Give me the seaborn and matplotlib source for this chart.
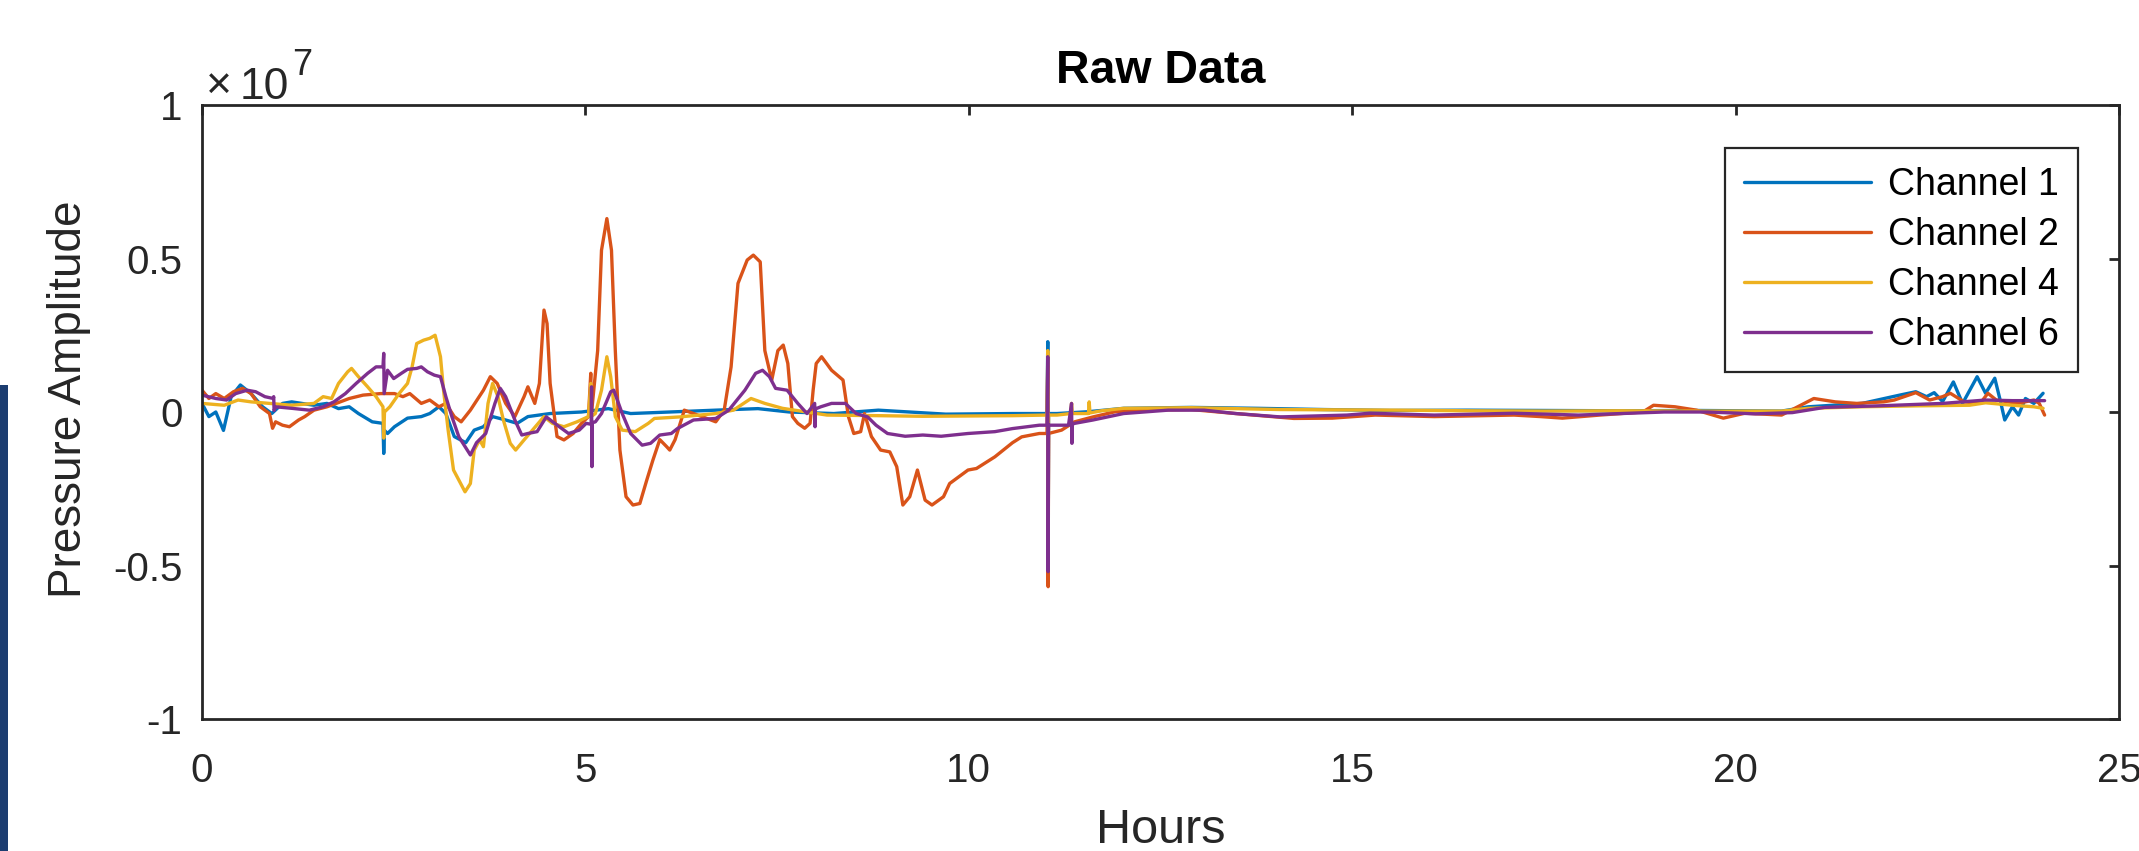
import numpy as np
import pandas as pd
import matplotlib
matplotlib.use("Agg")
import matplotlib.pyplot as plt
from matplotlib.patches import Rectangle
from matplotlib.ticker import FixedLocator, FuncFormatter
import seaborn as sns

# ---------------- data (values in units of 1e7) ----------------
channels = ["Channel 1", "Channel 2", "Channel 4", "Channel 6"]
colors = ["#0072BD", "#D95319", "#EDB120", "#7E2F8E"]

ch1_t = [0.0, 0.09, 0.18, 0.28, 0.38, 0.50, 0.64, 0.79, 0.91, 1.05, 1.17, 1.46, 1.63, 1.78, 1.92,
         2.04, 2.22, 2.36, 2.37, 2.38, 2.42, 2.51, 2.68, 2.86, 2.97, 3.09, 3.18, 3.29, 3.44, 3.55,
         3.67, 3.79, 3.96, 4.11, 4.25, 4.54, 4.95, 5.3, 5.59, 6.1, 6.7, 7.25, 7.66, 8.24, 8.82,
         9.7, 10.57, 11.02, 11.03, 11.035, 11.04, 11.15, 11.56, 12.02, 12.9, 13.77, 14.64, 15.5,
         16.5, 17.5, 18.5, 19.5, 20.6, 20.95, 21.65, 22.14, 22.35, 22.49, 22.59, 22.7, 22.84,
         22.96, 23.15, 23.26, 23.38, 23.45, 23.51, 23.61, 23.69, 23.78, 23.89, 24.01]
ch1_v = [0.028, -0.015, 0.0, -0.06, 0.05, 0.088, 0.06, 0.017, -0.005, 0.028, 0.033, 0.022, 0.028, 0.011, 0.017,
         -0.005, -0.032, -0.037, -0.135, -0.06, -0.07, -0.048, -0.02, -0.015, -0.005, 0.017, -0.005, -0.08, -0.1, -0.059,
         -0.048, -0.015, -0.026, -0.037, -0.015, -0.005, 0.0, 0.011, -0.005, 0.0, 0.006, 0.011, 0.0, -0.005, 0.006,
         -0.007, -0.005, -0.005, 0.229, -0.5, -0.005, -0.005, 0.001, 0.012, 0.015, 0.012, 0.008, 0.005,
         0.006, 0.005, 0.004, 0.005, 0.003, 0.017, 0.028, 0.055, 0.066, 0.05, 0.063, 0.034, 0.098,
         0.028, 0.115, 0.061, 0.11, 0.039, -0.026, 0.017, -0.01, 0.044, 0.028, 0.061]

ch2_t = [0.0, 0.09, 0.18, 0.29, 0.41, 0.53, 0.64, 0.76, 0.88, 0.92, 0.96, 1.05, 1.14, 1.26, 1.34, 1.46,
         1.63, 1.75, 1.92, 2.1, 2.33, 2.51, 2.62, 2.71, 2.86, 2.97, 3.09, 3.18, 3.29, 3.38, 3.5, 3.67,
         3.76, 3.85, 3.96, 4.08, 4.2, 4.25, 4.34, 4.4, 4.46, 4.5, 4.54, 4.63, 4.72, 4.84, 4.95, 5.04,
         5.07, 5.075, 5.16, 5.21, 5.28, 5.34, 5.39, 5.45, 5.53, 5.62, 5.71, 5.8, 5.88, 5.97, 6.06, 6.1,
         6.17, 6.29, 6.41, 6.52, 6.7, 6.81, 6.9, 6.99, 7.11, 7.19, 7.28, 7.34, 7.43, 7.51, 7.58, 7.64,
         7.7, 7.77, 7.86, 7.93, 7.97, 8.01, 8.08, 8.21, 8.36, 8.43, 8.5, 8.59, 8.64, 8.73, 8.85, 8.97,
         9.06, 9.14, 9.23, 9.33, 9.43, 9.52, 9.67, 9.75, 9.99, 10.1, 10.34, 10.57, 10.69, 10.92, 11.02,
         11.03, 11.035, 11.04, 11.21, 11.38, 11.62, 11.91, 12.31, 12.9, 13.48, 14.24, 14.74, 15.3,
         16.07, 17.11, 17.46, 17.74, 18.23, 18.79, 18.93, 19.21, 19.49, 19.84, 20.12, 20.6, 20.85,
         21.02, 21.3, 21.58, 21.93, 22.07, 22.35, 22.53, 22.7, 22.8, 22.98, 23.19, 23.29, 23.4, 23.68,
         23.89, 23.96, 24.03]
ch2_v = [0.071, 0.044, 0.06, 0.044, 0.066, 0.077, 0.06, 0.017, -0.005, -0.053, -0.032, -0.043, -0.048, -0.026, -0.015, 0.006,
         0.017, 0.028, 0.044, 0.055, 0.06, 0.06, 0.05, 0.06, 0.028, 0.039, 0.017, 0.028, -0.015, -0.032, 0.006, 0.071,
         0.115, 0.093, 0.028, -0.015, 0.05, 0.082, 0.028, 0.093, 0.332, 0.288, 0.093, -0.08, -0.091, -0.07, -0.037, -0.015,
         0.126, -0.015, 0.2, 0.527, 0.63, 0.527, 0.2, -0.124, -0.276, -0.303, -0.298, -0.222, -0.157, -0.09, -0.113, -0.124,
         -0.09, 0.006, -0.005, -0.015, -0.032, 0.006, 0.147, 0.419, 0.495, 0.511, 0.489, 0.2, 0.104, 0.2, 0.218, 0.158,
         -0.015, -0.037, -0.053, -0.037, 0.071, 0.158, 0.18, 0.136, 0.104, -0.015, -0.07, -0.064, -0.005, -0.08, -0.124, -0.13,
         -0.178, -0.303, -0.276, -0.189, -0.287, -0.303, -0.276, -0.233, -0.189, -0.184, -0.146, -0.1, -0.081, -0.07, -0.07,
         0.15, -0.569, -0.07, -0.059, -0.032, -0.016, 0.001, 0.006, 0.008, -0.005, -0.021, -0.02, -0.01,
         -0.015, -0.01, -0.015, -0.02, -0.01, 0.0, 0.022, 0.017, 0.006, -0.02, -0.004, -0.01, 0.022,
         0.044, 0.033, 0.028, 0.033, 0.039, 0.063, 0.039, 0.05, 0.061, 0.033, 0.028, 0.061, 0.039, 0.028,
         0.039, 0.028, -0.01]

ch4_t = [0.0, 0.29, 0.47, 0.64, 0.88, 1.17, 1.46, 1.58, 1.69, 1.78, 1.9, 1.95, 2.04, 2.16, 2.27, 2.36,
         2.37, 2.38, 2.45, 2.57, 2.68, 2.74, 2.8, 2.89, 2.97, 3.04, 3.11, 3.15, 3.21, 3.28, 3.35, 3.43,
         3.5, 3.55, 3.62, 3.67, 3.73, 3.79, 3.86, 3.93, 4.02, 4.09, 4.2, 4.31, 4.46, 4.57, 4.72, 4.89,
         5.04, 5.07, 5.075, 5.13, 5.21, 5.28, 5.33, 5.39, 5.48, 5.65, 5.82, 5.9, 6.23, 6.7, 6.93, 7.16,
         7.34, 7.57, 7.86, 8.15, 8.84, 9.4, 10.57, 11.02, 11.03, 11.035, 11.04, 11.15, 11.33, 11.34,
         11.35, 11.56, 11.57, 11.58, 11.73, 12.02, 12.9, 14.06, 15.62, 16.5, 17.5, 18.5, 19.5, 20.6,
         20.95, 21.65, 22.35, 23.05, 23.26, 23.61, 23.89, 24.01]
ch4_v = [0.028, 0.022, 0.039, 0.033, 0.028, 0.022, 0.028, 0.05, 0.044, 0.093, 0.131, 0.142, 0.115, 0.082, 0.05, 0.017,
         -0.085, 0.0, 0.017, 0.06, 0.093, 0.147, 0.223, 0.234, 0.24, 0.25, 0.18, 0.071, -0.059, -0.189, -0.222, -0.26,
         -0.233, -0.124, -0.091, -0.113, 0.028, 0.093, 0.05, -0.026, -0.102, -0.124, -0.091, -0.059, -0.015, -0.037, -0.048, -0.032,
         -0.015, 0.093, -0.015, -0.005, 0.071, 0.18, 0.115, -0.015, -0.059, -0.064, -0.037, -0.021, -0.016, -0.005, 0.006, 0.044,
         0.028, 0.012, 0.001, -0.01, -0.012, -0.014, -0.012, -0.01, 0.2, -0.5, -0.01, -0.01, -0.005, 0.028,
         -0.005, -0.005, 0.033, -0.003, 0.004, 0.012, 0.014, 0.008, 0.006, 0.004, 0.003, 0.004, 0.003, 0.003,
         0.012, 0.017, 0.02, 0.022, 0.03, 0.022, 0.017, 0.012]

ch6_t = [0.0, 0.18, 0.32, 0.44, 0.59, 0.7, 0.82, 0.93, 0.935, 0.94, 0.96, 1.17, 1.4, 1.58, 1.72, 1.87,
         2.01, 2.16, 2.27, 2.36, 2.37, 2.375, 2.42, 2.5, 2.6, 2.68, 2.8, 2.86, 2.94, 3.03, 3.11, 3.18,
         3.26, 3.35, 3.5, 3.58, 3.7, 3.82, 3.89, 3.96, 4.08, 4.17, 4.25, 4.37, 4.49, 4.6, 4.78, 4.92,
         5.01, 5.075, 5.08, 5.085, 5.09, 5.13, 5.21, 5.33, 5.37, 5.48, 5.59, 5.74, 5.85, 5.97, 6.12, 6.2,
         6.41, 6.7, 6.87, 7.08, 7.22, 7.31, 7.4, 7.48, 7.63, 7.77, 7.89, 7.99, 7.995, 8.0, 8.07, 8.21,
         8.39, 8.53, 8.68, 8.79, 8.94, 9.17, 9.4, 9.64, 9.99, 10.34, 10.57, 10.92, 11.02, 11.03, 11.035,
         11.04, 11.09, 11.3, 11.34, 11.345, 11.35, 11.38, 11.62, 12.02, 12.6, 13.07, 13.48, 14.06, 14.93,
         15.23, 16.07, 17.11, 17.95, 19.07, 19.63, 20.26, 20.74, 21.16, 21.86, 22.7, 23.26, 23.61, 24.03]
ch6_v = [0.055, 0.044, 0.039, 0.06, 0.071, 0.066, 0.05, 0.044, 0.05, 0.005, 0.017, 0.012, 0.006, 0.017, 0.033, 0.06,
         0.093, 0.126, 0.147, 0.147, 0.191, 0.06, 0.136, 0.109, 0.126, 0.139, 0.142, 0.147, 0.131, 0.12, 0.115, 0.05,
         -0.016, -0.081, -0.14, -0.1, -0.07, 0.028, 0.077, 0.05, -0.026, -0.075, -0.07, -0.064, -0.016, -0.037, -0.07, -0.059,
         -0.037, -0.04, 0.082, -0.178, -0.035, -0.032, -0.005, 0.066, 0.071, -0.005, -0.07, -0.108, -0.102, -0.075, -0.07, -0.054,
         -0.026, -0.021, 0.006, 0.071, 0.126, 0.136, 0.115, 0.077, 0.071, 0.028, -0.005, 0.028, -0.048, 0.01, 0.017, 0.028,
         0.028, -0.005, -0.016, -0.043, -0.07, -0.079, -0.075, -0.079, -0.07, -0.064, -0.054, -0.043, -0.043, 0.18, -0.52,
         -0.043, -0.043, -0.043, 0.028, -0.102, -0.04, -0.037, -0.026, -0.005, 0.006, 0.006, -0.005, -0.016, -0.01,
         -0.004, -0.01, -0.004, -0.01, 0.0, 0.0, -0.006, -0.002, 0.015, 0.02, 0.028, 0.039, 0.037, 0.037]

x_ticks = [0, 5, 10, 15, 20, 25]
y_ticks = [-1, -0.5, 0, 0.5, 1]
scale = 1e7

# ---------------- build frame ----------------
frames = []
for name, t, v in zip(channels, [ch1_t, ch2_t, ch4_t, ch6_t], [ch1_v, ch2_v, ch4_v, ch6_v]):
    frames.append(pd.DataFrame({"Hours": t, "Value": np.array(v) * scale, "Channel": name}))
df = pd.concat(frames, ignore_index=True)

# ---------------- plot ----------------
sns.set_style("white")
plt.rcParams["font.family"] = ["Liberation Sans", "DejaVu Sans"]

W, H = 2139, 851
fig = plt.figure(figsize=(W / 100, H / 100), dpi=100)
ax = fig.add_axes([202 / W, 1 - 719 / H, (2119 - 202) / W, (719 - 105) / H])

sns.lineplot(data=df, x="Hours", y="Value", hue="Channel", hue_order=channels,
             palette=colors, estimator=None, sort=False, linewidth=2.4, ax=ax, legend=False)

ax.set_xlim(0, 25)
ax.set_ylim(-1 * scale, 1 * scale)
ax.xaxis.set_major_locator(FixedLocator(x_ticks))
ax.yaxis.set_major_locator(FixedLocator([y * scale for y in y_ticks]))
ax.yaxis.set_major_formatter(FuncFormatter(lambda v, p: f"{v / scale:g}"))
ax.xaxis.set_major_formatter(FuncFormatter(lambda v, p: f"{v:g}"))

dark = "#262626"
for s in ax.spines.values():
    s.set_visible(True)
    s.set_color(dark)
    s.set_linewidth(2.0)
ax.tick_params(axis="both", direction="in", length=7, width=2.0, color=dark,
               labelsize=29, labelcolor=dark, top=True, right=True)
ax.tick_params(axis="x", pad=24)
ax.tick_params(axis="y", pad=14)

ax.set_title("Raw Data", fontsize=33.5, fontweight="bold", color="black", pad=16)
ax.set_xlabel("Hours", fontsize=35, color=dark)
ax.set_ylabel("Pressure Amplitude", fontsize=33, color=dark)
ax.xaxis.set_label_coords(0.5, -0.145)
ax.yaxis.set_label_coords(-0.058, 0.52)

# MATLAB-style exponent label "x10^7"
fig.text(206 / W, 1 - 98 / H, "\u00d7", fontsize=32, color=dark, ha="left", va="baseline")
fig.text(240 / W, 1 - 99 / H, "10", fontsize=32, color=dark, ha="left", va="baseline")
fig.text(292 / W, 1 - 75 / H, "7", fontsize=26, color=dark, ha="left", va="baseline")

leg = ax.legend(handles=ax.lines[:4], labels=channels, loc="upper right",
                bbox_to_anchor=(0.9786, 0.930), borderaxespad=0, fontsize=27,
                frameon=True, fancybox=False, framealpha=1, edgecolor=dark,
                handlelength=3.4, handletextpad=0.45, labelspacing=0.38, borderpad=0.5)
leg.get_frame().set_linewidth(1.6)
for txt in leg.get_texts():
    txt.set_color("black")

# decorative slide-background strip at far left
fig.add_artist(Rectangle((0, 0), 8 / W, (H - 385) / H, transform=fig.transFigure,
                         facecolor="#1c3d70", edgecolor="none"))

fig.savefig("out.png", dpi=100)
